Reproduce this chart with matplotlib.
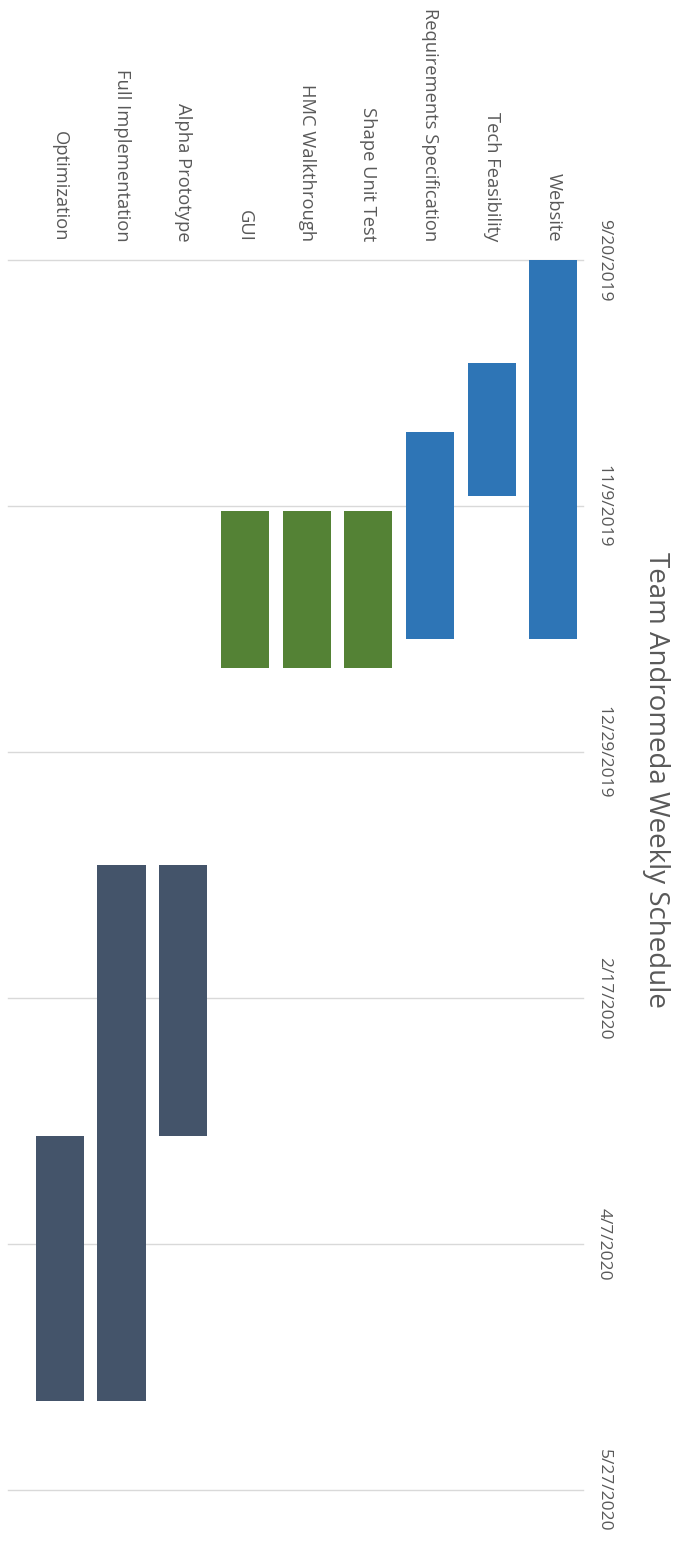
import datetime as dt
import matplotlib.pyplot as plt
import matplotlib.dates as mdates

# task list, bottom (left in rotated view) to top (right)
tasks = ['Optimization', 'Full Implementation', 'Alpha Prototype', 'GUI',
         'HMC Walkthrough', 'Shape Unit Test', 'Requirements Specification',
         'Tech Feasibility', 'Website']
starts = ['2020-03-16', '2020-01-21', '2020-01-21', '2019-11-10',
          '2019-11-10', '2019-11-10', '2019-10-25', '2019-10-11', '2019-09-20']
ends = ['2020-05-09', '2020-05-09', '2020-03-16', '2019-12-12',
        '2019-12-12', '2019-12-12', '2019-12-06', '2019-11-07', '2019-12-06']
phase = ['late', 'late', 'late', 'mid', 'mid', 'mid', 'early', 'early', 'early']
tick_dates = ['2019-09-20', '2019-11-09', '2019-12-29', '2020-02-17',
              '2020-04-07', '2020-05-27']

colors = {'early': '#2E75B6', 'mid': '#548235', 'late': '#44546A'}
plt.rcParams['font.family'] = ['Open Sans', 'DejaVu Sans']

def d(s):
    return mdates.date2num(dt.datetime.strptime(s, '%Y-%m-%d'))

fig = plt.figure(figsize=(6.78, 15.41), dpi=100)
ax = fig.add_axes([8 / 678, 1 - 1490 / 1541, 575 / 678, 1230 / 1541])

for i, t in enumerate(tasks):
    s, e = d(starts[i]), d(ends[i])
    ax.bar(i, e - s, bottom=s, width=0.78, color=colors[phase[i]], zorder=3)

ticks = [d(t) for t in tick_dates]
ax.set_ylim(ticks[-1], ticks[0])
ax.set_xlim(-0.84, 8.48)
for y in ticks:
    ax.axhline(y, color='#D9D9D9', lw=1, zorder=1, clip_on=False)

for y, lab in zip(ticks, tick_dates):
    dd = dt.datetime.strptime(lab, '%Y-%m-%d')
    ax.text(1.022, y, f'{dd.month}/{dd.day}/{dd.year}', transform=ax.get_yaxis_transform(),
            rotation=-90, ha='left', va='center', fontsize=12.5, color='#595959')

for i, t in enumerate(tasks):
    ax.text(i, 1.015, t, transform=ax.get_xaxis_transform(), rotation=-90,
            ha='center', va='bottom', fontsize=13.2, color='#595959')

fig.text(656 / 678, 1 - 780 / 1541, 'Team Andromeda Weekly Schedule', rotation=-90,
         ha='center', va='center', fontsize=20, color='#595959')

ax.axis('off')
fig.savefig('out.png', dpi=100)
